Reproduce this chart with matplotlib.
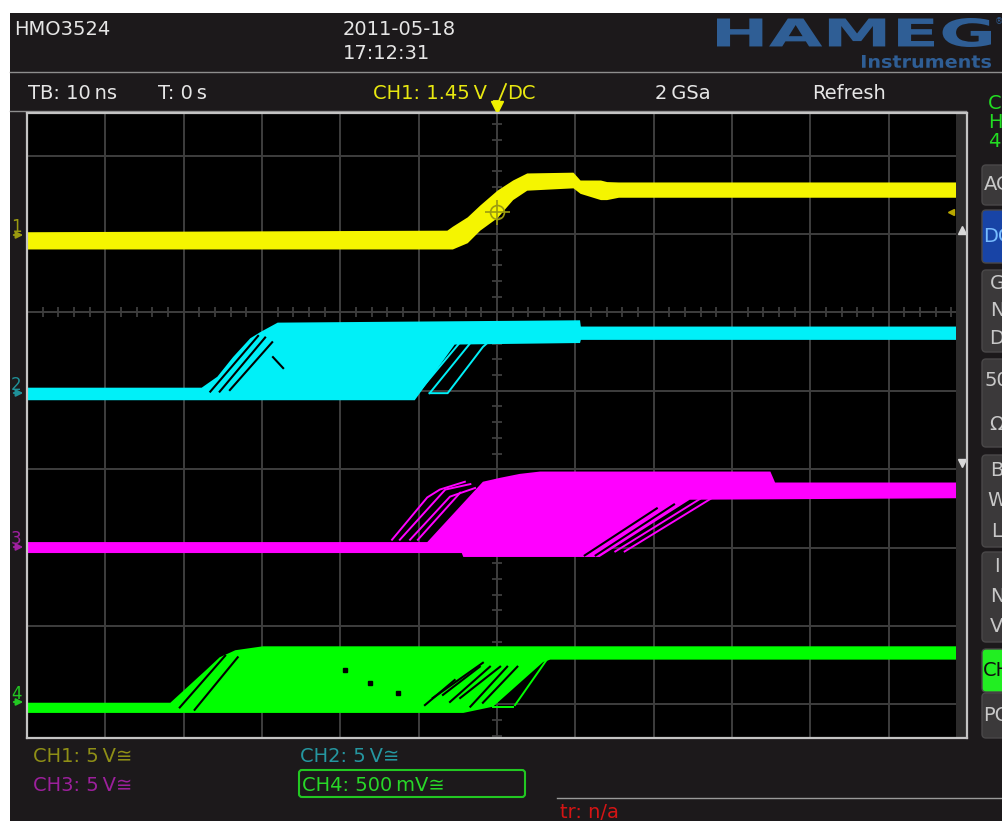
import matplotlib.pyplot as plt
from matplotlib.patches import Rectangle, FancyBboxPatch, PathPatch
from matplotlib.textpath import TextPath
from matplotlib.font_manager import FontProperties
from matplotlib.transforms import Affine2D

plt.rcParams['font.family'] = ['DejaVu Sans']

W, H = 1002, 821

# time base 10 ns/div over 12 divisions, vertical scale in divisions
t_span = (-60, 60)
v_span = (-5.43, 2.545)

# CH1 (yellow): persistence band, lower/upper edge in divisions
ch1_t = [-60, -6.4, -5.7, -3.8, -2.2, 0.0, 2.0, 3.8, 9.7, 10.6, 13.2, 14.0, 15.5, 60]
ch1_top = [1.03, 1.05, 1.10, 1.22, 1.37, 1.56, 1.69, 1.78, 1.79, 1.69, 1.69, 1.67, 1.665, 1.665]
ch1_bot = [0.81, 0.81, 0.81, 0.89, 1.05, 1.21, 1.44, 1.56, 1.59, 1.52, 1.44, 1.44, 1.47, 1.47]
ch1_trig = (0.0, 1.28)

# CH2 (cyan): outline of the accumulated band
ch2_up_t = [-60, -37.7, -35.7, -33.7, -31.5, -30.2, -28.0, 10.6, 10.7, 60]
ch2_up_v = [-0.96, -0.96, -0.82, -0.57, -0.33, -0.25, -0.13, -0.10, -0.18, -0.18]
ch2_lo_t = [-60, -10.5, -5.4, 10.6, 10.7, 60]
ch2_lo_v = [-1.12, -1.12, -0.41, -0.39, -0.35, -0.35]
ch2_edges = [([-9.8, -4.7], [-0.99, -0.38]),
             ([-8.6, -3.4], [-1.03, -0.39]),
             ([-8.6, -6.3, -1.8, -0.9], [-1.03, -1.03, -0.44, -0.36])]
ch2_gaps = [([-36.6, -30.5], [-1.01, -0.30]),
            ([-35.4, -29.6], [-1.01, -0.32]),
            ([-34.1, -28.7], [-0.99, -0.38]),
            ([-28.6, -27.3], [-0.57, -0.71])]

# CH3 (magenta)
ch3_up_t = [-60, -8.9, -1.8, 0.4, 2.9, 5.5, 34.9, 35.5, 60]
ch3_up_v = [-2.93, -2.93, -2.16, -2.11, -2.06, -2.03, -2.03, -2.17, -2.17]
ch3_lo_t = [-60, -4.5, -4.3, 13.1, 24.6, 60]
ch3_lo_v = [-3.07, -3.07, -3.12, -3.12, -2.39, -2.37]
ch3_edges = [([-13.4, -8.9, -7.3, -4.1], [-2.90, -2.36, -2.26, -2.16]),
             ([-12.4, -6.6, -3.4], [-2.90, -2.26, -2.19]),
             ([-11.1, -6.0, -2.8], [-2.90, -2.35, -2.24]),
             ([-10.1, -4.7], [-2.90, -2.30]),
             ([15.1, 25.9], [-3.05, -2.38]),
             ([16.3, 27.4], [-3.05, -2.37])]
ch3_gaps = [([12.6, 22.6], [-3.10, -2.45]),
            ([11.2, 20.4], [-3.10, -2.50])]

# CH4 (green)
ch4_up_t = [-60, -41.7, -37.0, -35.4, -33.4, -29.9, 60]
ch4_up_v = [-4.98, -4.98, -4.55, -4.40, -4.31, -4.26, -4.26]
ch4_lo_t = [-60, -4.3, -0.5, 5.9, 6.8, 60]
ch4_lo_v = [-5.11, -5.11, -5.03, -4.46, -4.43, -4.43]
ch4_edges = [([2.3, 6.5], [-5.01, -4.41]),
             ([-0.5, 2.1], [-5.03, -5.03])]
ch4_gaps = [([-40.5, -34.7], [-5.04, -4.38]),
            ([-38.6, -33.1], [-5.07, -4.40]),
            ([-9.2, -5.4], [-5.01, -4.69]),
            ([-8.2, -1.8], [-4.92, -4.47]),
            ([-6.9, -2.2], [-4.88, -4.52]),
            ([-6.0, -0.9], [-4.97, -4.52]),
            ([-4.7, 0.4], [-4.92, -4.52]),
            ([-3.4, 1.3], [-5.03, -4.52]),
            ([-1.8, 2.6], [-4.98, -4.52])]
ch4_dots_t = [-19.4, -16.2, -12.6]
ch4_dots_v = [-4.56, -4.73, -4.85]

YELLOW, CYAN, MAGENTA, GREEN = '#f5f500', '#00f0f8', '#ff00ff', '#00ff00'
PANEL, GRID = '#1c191b', '#3e3e3e'

fig = plt.figure(figsize=(W / 100, H / 100), dpi=100, facecolor='white')

# screen chrome in pixel coordinates
ui = fig.add_axes([0, 0, 1, 1])
ui.set_xlim(0, W)
ui.set_ylim(H, 0)
ui.axis('off')
ui.add_patch(Rectangle((10, 13), W - 10, H - 13, color=PANEL, lw=0))
ui.plot([10, W], [72, 72], color='#8e8e8e', lw=1)
ui.plot([10, 966], [111, 111], color='#8e8e8e', lw=1)
ui.plot([557, W], [798, 798], color='#9a9a9a', lw=1)

txt = dict(fontsize=14, va='baseline', ha='left')
ui.text(14, 35, 'HMO3524', color='#e6e6e6', **txt)
ui.text(343, 35, '2011-05-18', color='#e6e6e6', **txt)
ui.text(343, 59, '17:12:31', color='#e6e6e6', **txt)
ui.text(28, 99, 'TB: 10\u2009ns', color='#e6e6e6', **txt)
ui.text(158, 99, 'T: 0\u2009s', color='#e6e6e6', **txt)
ui.text(373, 99, 'CH1: 1.45\u2009V', color='#e8e810', **txt)
ui.plot([494, 499, 506], [101, 101, 84], color='#e8e810', lw=1.3)
ui.text(507, 99, 'DC', color='#e8e810', **txt)
ui.text(655, 99, '2\u2009GSa', color='#e6e6e6', **txt)
ui.text(812, 99, 'Refresh', color='#e6e6e6', **txt)


def stretched(s, x0, x1, y_top, y_base, color):
    tp = TextPath((0, 0), s, size=10,
                  prop=FontProperties(family='DejaVu Sans', weight='bold'))
    ext = tp.get_extents()
    tr = (Affine2D().translate(-ext.x0, -ext.y0)
          .scale((x1 - x0) / ext.width, -(y_base - y_top) / ext.height)
          .translate(x0, y_base) + ui.transData)
    ui.add_patch(PathPatch(tp, transform=tr, color=color, lw=0))


stretched('HAMEG', 717, 991, 18, 47, '#2f5e95')
stretched('Instruments', 862, 991, 55, 68, '#2f5e95')
ui.text(995, 22, '®', color='#2f5e95', fontsize=6, va='center', ha='left')

# bottom channel readouts
ui.text(33, 762, 'CH1: 5\u2009V≅', color='#8f8f16', **txt)
ui.text(33, 791, 'CH3: 5\u2009V≅', color='#9c209c', **txt)
ui.text(300, 762, 'CH2: 5\u2009V≅', color='#2596a0', **txt)
ui.add_patch(FancyBboxPatch((299, 770), 226, 27, boxstyle='round,pad=0,rounding_size=3',
                            fc='none', ec='#22c822', lw=1.5))
ui.text(302, 791, 'CH4: 500\u2009mV≅', color='#28d828', **txt)
ui.text(560, 818, 'tr: n/a', color='#d41414', **txt)

# channel ground markers on the left
for num, y, col in [('1', 235, '#9a9a10'), ('2', 393, '#1f9098'),
                    ('3', 547, '#a020a0'), ('4', 702, '#22c822')]:
    ui.text(11, y - 3, num, color=col, fontsize=12, va='baseline', ha='left')
    ui.annotate('', xy=(26, y), xytext=(11, y),
                arrowprops=dict(arrowstyle='-|>', color=col, lw=1.4, mutation_scale=10))

# trigger position marker above the graticule
ui.plot([497], [107], marker='v', ms=8, color='#f0f000', ls='none')

# soft-key column on the right
for lab, y in [('C', 109), ('H', 128), ('4', 147)]:
    ui.text(988, y, lab, color='#22dd22', **txt)
keys = [(165, 205, '#3b393a', ['AC'], '#c8c8c8'),
        (210, 263, '#1844a6', ['DC'], '#78bcff'),
        (270, 352, '#3b393a', ['G', 'N', 'D'], '#c8c8c8'),
        (359, 447, '#3b393a', ['50', 'Ω'], '#c8c8c8'),
        (455, 547, '#3b393a', ['B', 'W', 'L'], '#c8c8c8'),
        (552, 642, '#3b393a', ['I', 'N', 'V'], '#c8c8c8'),
        (649, 692, '#22ee22', ['CH'], '#101010'),
        (693, 738, '#3b393a', ['PO'], '#c8c8c8')]
for y0, y1, fc, labels, tc in keys:
    ui.add_patch(FancyBboxPatch((982, y0), 40, y1 - y0, boxstyle='round,pad=0,rounding_size=4',
                                fc=fc, ec='#4a4849', lw=1))
    step = (y1 - y0) / len(labels)
    for i, lab in enumerate(labels):
        ui.text(997, y0 + step * (i + 0.5), lab, color=tc, fontsize=14,
                va='center', ha='center')

# graticule
ax = fig.add_axes([27 / W, (H - 738) / H, 940 / W, 625 / H])
ax.set_facecolor('black')
ax.set_xlim(*t_span)
ax.set_ylim(*v_span)
ax.set_xticks([])
ax.set_yticks([])
for s in ax.spines.values():
    s.set_color('#c4c4c4')
    s.set_linewidth(1.6)
    s.set_zorder(6)
for t in range(-50, 60, 10):
    ax.axvline(t, color=GRID, lw=1.4, zorder=1)
for v in range(-5, 3):
    ax.axhline(v, color=GRID, lw=1.4, zorder=1)
tick_t = [2 * i for i in range(-30, 31) if i % 5]
ax.plot(tick_t, [0] * len(tick_t), ls='none', marker='|', ms=7, mew=1.3, color=GRID, zorder=1)
tick_v = [0.2 * i for i in range(-27, 13) if i % 5]
ax.plot([0] * len(tick_v), tick_v, ls='none', marker='_', ms=7, mew=1.3, color=GRID, zorder=1)

# waveforms
ax.fill_between(ch1_t, ch1_bot, ch1_top, color=YELLOW, lw=0, zorder=3)
for up_t, up_v, lo_t, lo_v, edges, gaps, col in [
        (ch2_up_t, ch2_up_v, ch2_lo_t, ch2_lo_v, ch2_edges, ch2_gaps, CYAN),
        (ch3_up_t, ch3_up_v, ch3_lo_t, ch3_lo_v, ch3_edges, ch3_gaps, MAGENTA),
        (ch4_up_t, ch4_up_v, ch4_lo_t, ch4_lo_v, ch4_edges, ch4_gaps, GREEN)]:
    ax.fill(up_t + lo_t[::-1], up_v + lo_v[::-1], color=col, lw=0, zorder=3)
    for et, ev in edges:
        ax.plot(et, ev, color=col, lw=1.4, zorder=3)
    for gt, gv in gaps:
        ax.plot(gt, gv, color='black', lw=1.5, zorder=4)
ax.plot(ch4_dots_t, ch4_dots_v, ls='none', marker='s', ms=2.5, color='black', zorder=4)

# trigger point crosshair
ax.plot(*ch1_trig, marker='o', ms=10, mfc='none', mec='#9c9c10', mew=1.2, zorder=5)
ax.plot(*ch1_trig, marker='+', ms=18, mec='#9c9c10', mew=1.2, zorder=5)

# scroll strip at the right edge of the graticule
ax.add_patch(Rectangle((929 / 940, 0), 11 / 940, 1, transform=ax.transAxes,
                       color='#2c2b2b', lw=0, zorder=5))
ax.plot([934.5 / 940], [(738 - 230) / 625], marker='^', ms=6, color='#d8d8d8',
        transform=ax.transAxes, zorder=6)
ax.plot([934.5 / 940], [(738 - 463) / 625], marker='v', ms=6, color='#d8d8d8',
        transform=ax.transAxes, zorder=6)
ax.plot([924 / 940], [(738 - 212) / 625], marker='<', ms=5, color='#b8a800',
        transform=ax.transAxes, zorder=6)

fig.savefig('out.png', dpi=100, facecolor='white')
